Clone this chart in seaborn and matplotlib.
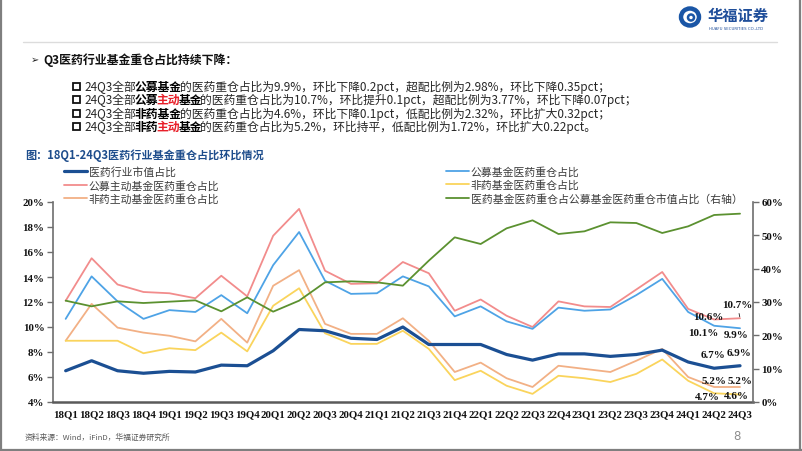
import numpy as np
import matplotlib
matplotlib.use("Agg")
import matplotlib.pyplot as plt
import seaborn as sns
from matplotlib.lines import Line2D
from matplotlib.patches import Rectangle, Ellipse
from matplotlib.ticker import FuncFormatter

W, H = 802, 452

# ─── Data ────────────────────────────────────────────────────────────────────
quarters = ["18Q1", "18Q2", "18Q3", "18Q4", "19Q1", "19Q2", "19Q3", "19Q4",
            "20Q1", "20Q2", "20Q3", "20Q4", "21Q1", "21Q2", "21Q3", "21Q4",
            "22Q1", "22Q2", "22Q3", "22Q4", "23Q1", "23Q2", "23Q3", "23Q4",
            "24Q1", "24Q2", "24Q3"]
mkt_share = [6.5, 7.3, 6.5, 6.3, 6.45, 6.4, 6.95, 6.9, 8.1, 9.8, 9.7, 9.1, 9.0, 10.0,
             8.6, 8.6, 8.6, 7.8, 7.35, 7.85, 7.85, 7.65, 7.8, 8.15, 7.2, 6.7, 6.9]
pub_fund = [10.65, 14.05, 12.05, 10.65, 11.35, 11.2, 12.55, 11.1, 14.95, 17.6, 13.7,
            12.65, 12.7, 14.05, 13.25, 10.85, 11.65, 10.45, 9.85, 11.55, 11.3, 11.4,
            12.55, 13.85, 11.2, 10.1, 9.9]
pub_active = [12.1, 15.5, 13.4, 12.8, 12.7, 12.3, 14.1, 12.45, 17.3, 19.45, 14.5,
              13.45, 13.5, 15.2, 14.3, 11.3, 12.2, 10.9, 10.0, 12.05, 11.65, 11.6,
              13.0, 14.4, 11.45, 10.6, 10.7]
nonpharma_fund = [8.9, 8.9, 8.9, 7.9, 8.3, 8.15, 9.55, 8.05, 11.7, 13.1, 9.5, 8.65,
                  8.65, 9.7, 8.25, 5.75, 6.5, 5.3, 4.65, 6.1, 5.9, 5.6, 6.25, 7.4,
                  5.7, 4.7, 4.6]
nonpharma_active = [8.9, 11.85, 9.95, 9.55, 9.3, 8.85, 10.65, 8.75, 13.3, 14.55, 10.25,
                    9.45, 9.45, 10.7, 8.9, 6.4, 7.15, 5.9, 5.2, 6.9, 6.65, 6.4, 7.3,
                    8.25, 6.0, 5.2, 5.2]
pharma_ratio = [30.4, 28.7, 30.2, 29.7, 30.1, 30.5, 27.2, 31.4, 27.1, 30.4, 35.9, 36.2,
                35.9, 34.9, 42.4, 49.4, 47.4, 52.1, 54.5, 50.4, 51.2, 53.9, 53.7, 50.7,
                52.7, 56.1, 56.5]

labels = ["医药行业市值占比", "公募主动基金医药重仓占比", "非药主动基金医药重仓占比",
          "公募基金医药重仓占比", "非药基金医药重仓占比",
          "医药基金医药重仓占公募基金医药重仓市值占比（右轴）"]

# ─── Style ────────────────────────────────────────────────────────────────────
C_MKT = "#1B4F93"
C_PUB = "#4EA3E6"
C_PUBA = "#F28C8C"
C_NPA = "#F2B085"
C_NP = "#FAD45C"
C_GREEN = "#5B9130"
AXIS_GRAY = "#6E6E6E"
CJK = ["Noto Sans CJK SC", "DejaVu Sans"]
SERIF = "Liberation Serif"

sns.set_theme(style="white")
plt.rcParams["font.family"] = CJK
plt.rcParams["axes.unicode_minus"] = False

fig = plt.figure(figsize=(W / 100, H / 100), dpi=100)
fig.patch.set_facecolor("white")


def fx(x):
    return x / W


def fy(y):
    return 1 - y / H


# ─── Slide header ─────────────────────────────────────────────────────────────
fig.add_artist(Ellipse((fx(690), fy(18)), 18 / W, 17 / H, fill=False,
                       edgecolor="#1A56A6", lw=3.2))
fig.add_artist(Ellipse((fx(691), fy(18.5)), 6 / W, 6 / H, fill=False,
                       edgecolor="#1A56A6", lw=1.8))
fig.text(fx(708), fy(16), "华福证券", fontsize=11, fontweight="bold",
         color="#1F4E9A", va="center", ha="left", family=CJK)
fig.text(fx(709), fy(29), "HUAFU SECURITIES CO.,LTD", fontsize=2.8,
         color="#1F4E9A", va="center", ha="left", family="DejaVu Sans")
fig.add_artist(Line2D([fx(23), fx(777)], [fy(43), fy(43)], color="#DCDCDC", lw=1))

# slide frame
for xs, ys in [([fx(1), fx(1)], [0, 1]), ([fx(800), fx(800)], [0, 1]),
               ([0, 1], [fy(450.5), fy(450.5)])]:
    fig.add_artist(Line2D(xs, ys, color="#7F7F7F", lw=1.6))

fig.text(fx(31), fy(60), "➢", fontsize=7, color="#222222", va="center",
         ha="left", family=["DejaVu Sans"])
fig.text(fx(43), fy(60), "Q3医药行业基金重仓占比持续下降：", fontsize=8.6,
         fontweight="bold", color="#111111", va="center", ha="left", family=CJK)

renderer = fig.canvas.get_renderer()


def rich_line(x, y, parts, size=8.5):
    # segments of one line, placed one after the other
    cur = x
    for s, weight, color in parts:
        t = fig.text(fx(cur), fy(y), s, fontsize=size, fontweight=weight,
                     color=color, va="center", ha="left", family=CJK)
        cur += t.get_window_extent(renderer).width - 1.5


TXT = "#262626"
RED = "#E8202A"
bullets = [
    [("24Q3全部", "normal", TXT), ("公募基金", "bold", "black"),
     ("的医药重仓占比为9.9%，环比下降0.2pct，超配比例为2.98%，环比下降0.35pct；", "normal", TXT)],
    [("24Q3全部", "normal", TXT), ("公募", "bold", "black"), ("主动", "bold", RED),
     ("基金", "bold", "black"),
     ("的医药重仓占比为10.7%，环比提升0.1pct，超配比例为3.77%，环比下降0.07pct；", "normal", TXT)],
    [("24Q3全部", "normal", TXT), ("非药基金", "bold", "black"),
     ("的医药重仓占比为4.6%，环比下降0.1pct，低配比例为2.32%，环比扩大0.32pct；", "normal", TXT)],
    [("24Q3全部", "normal", TXT), ("非药", "bold", "black"), ("主动", "bold", RED),
     ("基金", "bold", "black"),
     ("的医药重仓占比为5.2%，环比持平，低配比例为1.72%，环比扩大0.22pct。", "normal", TXT)],
]
for i, parts in enumerate(bullets):
    yy = 87 + i * 13.5
    fig.add_artist(Rectangle((fx(72.5), fy(yy + 3.5)), 7 / W, 7 / H, fill=False,
                             edgecolor="#111111", lw=1.3))
    rich_line(84, yy, parts)

fig.text(fx(25), fy(156), "图：18Q1-24Q3医药行业基金重仓占比环比情况", fontsize=8.0,
         fontweight="bold", color="#1E4D8C", va="center", ha="left", family=CJK)

# ─── Chart ────────────────────────────────────────────────────────────────────
ax = fig.add_axes([fx(52.7), fy(403), (753 - 52.7) / W, 200 / H])
ax2 = ax.twinx()
pos = np.arange(len(quarters))

left_series = [(pub_active, C_PUBA, 1.3), (pub_fund, C_PUB, 1.3),
               (nonpharma_active, C_NPA, 1.3), (nonpharma_fund, C_NP, 1.3),
               (mkt_share, C_MKT, 2.3)]
for vals, color, lw in left_series:
    sns.lineplot(x=pos, y=vals, ax=ax, color=color, linewidth=lw, legend=False)
sns.lineplot(x=pos, y=pharma_ratio, ax=ax2, color=C_GREEN, linewidth=1.3, legend=False)

ax.set_xlim(-0.5, len(quarters) - 0.5)
ax.set_ylim(4, 20)
ax2.set_ylim(0, 60)
ax.set_yticks(np.arange(4, 21, 2))
ax2.set_yticks(np.arange(0, 61, 10))
pct = FuncFormatter(lambda v, _: f"{v:.0f}%")
ax.yaxis.set_major_formatter(pct)
ax2.yaxis.set_major_formatter(pct)
ax.set_xticks(pos)
ax.set_xticklabels(quarters)
ax.set_xticks(np.arange(-0.5, len(quarters), 1), minor=True)
ax.set_xlabel("")
ax.set_ylabel("")
ax2.set_ylabel("")
ax.grid(False)
ax2.grid(False)
ax.set_facecolor("none")

ax.tick_params(axis="x", which="major", length=0, pad=5)
ax.tick_params(axis="x", which="minor", direction="in", length=4, width=1,
               color=AXIS_GRAY)
ax.tick_params(axis="y", direction="out", length=4, width=1, color=AXIS_GRAY,
               pad=2, left=True)
ax2.tick_params(axis="y", direction="out", length=4, width=1, color=AXIS_GRAY,
                pad=2, right=True)
for a in (ax, ax2):
    for lab in a.get_xticklabels() + a.get_yticklabels():
        lab.set_family(SERIF)
        lab.set_fontweight("bold")
        lab.set_fontsize(7.8)
        lab.set_color("#111111")

for a in (ax, ax2):
    a.spines["top"].set_visible(False)
ax.spines["right"].set_visible(False)
ax2.spines["left"].set_visible(False)
ax2.spines["bottom"].set_visible(False)
ax.spines["bottom"].set_color("#5A5A5A")
ax.spines["bottom"].set_linewidth(1.8)
ax.spines["left"].set_color(AXIS_GRAY)
ax.spines["left"].set_linewidth(1.2)
ax2.spines["right"].set_color(AXIS_GRAY)
ax2.spines["right"].set_linewidth(1.2)

# ─── End-point labels ─────────────────────────────────────────────────────────
n = len(quarters)
ann = [
    (n - 1, pub_active[-1], -2, 10, True),
    (n - 2, pub_active[-2], -4, 2.5, False),
    (n - 2, pub_fund[-2], -8, -4.5, False),
    (n - 1, pub_fund[-1], -3, -4.5, False),
    (n - 2, mkt_share[-2], -1, 10, False),
    (n - 1, mkt_share[-1], -1, 9.5, False),
    (n - 2, nonpharma_active[-2], 0, 5, False),
    (n - 1, nonpharma_active[-1], 0, 5, False),
    (n - 2, nonpharma_fund[-2], -5, -2, False),
    (n - 1, nonpharma_fund[-1], -3, -1, False),
]
for xi, v, dx, dy, leader in ann:
    kw = {}
    if leader:
        kw["arrowprops"] = dict(arrowstyle="-", color="#222222", lw=0.6,
                                shrinkA=1, shrinkB=1)
    ax.annotate(f"{v:.1f}%", xy=(xi, v), xytext=(dx, dy), textcoords="offset points",
                ha="center", va="center", fontsize=8, fontweight="bold",
                family=SERIF, color="#111111", zorder=10, **kw)

# ─── Legend ──────────────────────────────────────────────────────────────────
colors = [C_MKT, C_PUBA, C_NPA, C_PUB, C_NP, C_GREEN]
widths = [2.3, 1.3, 1.3, 1.3, 1.3, 1.3]
handles = [Line2D([], [], color=c, lw=w) for c, w in zip(colors, widths)]
leg_kw = dict(frameon=False, handlelength=2.1, handletextpad=0.2,
              labelspacing=0.28, borderpad=0, borderaxespad=0,
              prop={"family": CJK, "size": 7.8}, loc="upper left")
leg1 = fig.legend(handles[:3], labels[:3], bbox_to_anchor=(fx(64), fy(167)), **leg_kw)
leg2 = fig.legend(handles[3:], labels[3:], bbox_to_anchor=(fx(446), fy(167)), **leg_kw)
for leg in (leg1, leg2):
    for t in leg.get_texts():
        t.set_color("#3A3A3A")

# ─── Footer ──────────────────────────────────────────────────────────────────
fig.text(fx(25), fy(438), "资料来源：Wind，iFinD，华福证券研究所", fontsize=5.6,
         color="#595959", va="center", ha="left", family=CJK)
fig.text(fx(737), fy(437), "8", fontsize=8.5, color="#8C8C8C", va="center",
         ha="center", family="DejaVu Sans")

fig.savefig("out.png", dpi=100, facecolor="white")
